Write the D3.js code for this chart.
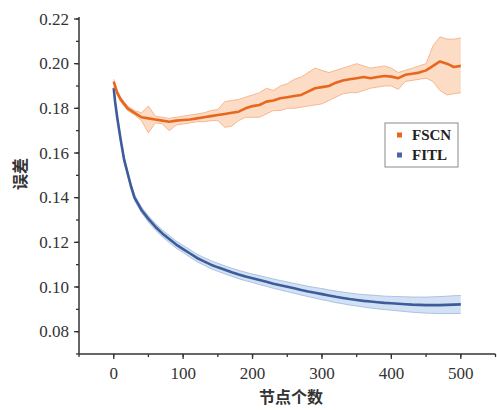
<!DOCTYPE html>
<html><head><meta charset="utf-8">
<script src="https://cdn.jsdelivr.net/npm/d3@7"></script>
<style>body{margin:0;background:#fff}svg{display:block}</style>
</head><body><svg id="c" width="497" height="410"></svg>
<script>
const nodes = [0,2,5,10,15,20,25,30,40,50,60,70,80,90,100,110,120,130,140,150,160,170,180,190,200,210,220,230,240,250,260,270,280,290,300,310,320,330,340,350,360,370,380,390,400,410,420,430,440,450,460,470,480,490,500];
const fscnMean = [0.192,0.190,0.187,0.184,0.182,0.180,0.179,0.178,0.176,0.1755,0.175,0.1745,0.174,0.1745,0.1748,0.175,0.1755,0.176,0.1765,0.177,0.1775,0.178,0.1785,0.180,0.181,0.1815,0.183,0.1835,0.1845,0.185,0.1855,0.186,0.1875,0.189,0.1895,0.190,0.1915,0.1925,0.193,0.1935,0.194,0.1935,0.194,0.1945,0.1942,0.1935,0.195,0.1955,0.196,0.197,0.199,0.201,0.200,0.1985,0.199];
const fscnUpper = [0.193,0.191,0.188,0.185,0.183,0.181,0.180,0.179,0.178,0.181,0.1765,0.176,0.1755,0.176,0.1765,0.177,0.1775,0.178,0.179,0.1795,0.183,0.1835,0.184,0.185,0.186,0.187,0.189,0.188,0.190,0.191,0.193,0.194,0.196,0.198,0.197,0.196,0.197,0.198,0.199,0.200,0.199,0.198,0.1985,0.199,0.198,0.196,0.197,0.198,0.199,0.200,0.208,0.212,0.211,0.211,0.2115];
const fscnLower = [0.191,0.189,0.186,0.183,0.181,0.179,0.178,0.177,0.1745,0.169,0.1735,0.173,0.170,0.1725,0.173,0.1735,0.174,0.174,0.1745,0.1745,0.1715,0.172,0.1745,0.176,0.176,0.176,0.1775,0.179,0.179,0.180,0.180,0.1805,0.181,0.1815,0.182,0.1835,0.185,0.1865,0.187,0.187,0.188,0.189,0.1895,0.190,0.190,0.1885,0.192,0.1925,0.193,0.1935,0.192,0.188,0.186,0.1865,0.187];
const fitlMean = [0.189,0.183,0.176,0.166,0.157,0.151,0.145,0.140,0.1345,0.1305,0.127,0.124,0.1215,0.119,0.117,0.115,0.113,0.1115,0.110,0.1088,0.1077,0.1066,0.1056,0.1047,0.1039,0.1031,0.1023,0.1015,0.1008,0.1001,0.0994,0.0987,0.098,0.0974,0.0968,0.0962,0.0956,0.0951,0.0946,0.0942,0.0938,0.0935,0.0932,0.0929,0.0927,0.0925,0.0923,0.0921,0.092,0.0919,0.0919,0.0919,0.092,0.0921,0.0922];
const fitlSpread = [0.0008,0.0008,0.0008,0.0009,0.001,0.001,0.0011,0.0012,0.0013,0.0014,0.0015,0.0015,0.0016,0.0016,0.0016,0.0017,0.0017,0.0017,0.0018,0.0018,0.0018,0.0018,0.0019,0.0019,0.0019,0.002,0.002,0.0021,0.0021,0.0022,0.0022,0.0023,0.0023,0.0024,0.0025,0.0025,0.0026,0.0026,0.0027,0.0027,0.0028,0.0029,0.003,0.003,0.0031,0.0032,0.0033,0.0034,0.0035,0.0036,0.0037,0.0038,0.0039,0.004,0.004];
const xTicks = [0,100,200,300,400,500];
const yTicks = [0.08,0.10,0.12,0.14,0.16,0.18,0.20,0.22];
const seriesNames = ["FSCN","FITL"];

const svg = d3.select("#c");
const L = 79, R = 495.5, T = 19, B = 354;
const x = d3.scaleLinear().domain([-50,550]).range([L,R]);
const y = d3.scaleLinear().domain([0.07,0.22]).range([B,T]);

const serif = "'Liberation Serif','DejaVu Serif',serif";
const axisCol = "#333";

function drawSeries(mean, lo, hi, fill, edge, line){
  const area = d3.area().x((d,i)=>x(nodes[i])).y0((d,i)=>y(lo[i])).y1((d,i)=>y(hi[i]));
  svg.append("path").datum(mean).attr("d",area).attr("fill",fill).attr("stroke","none");
  const up = d3.line().x((d,i)=>x(nodes[i])).y((d,i)=>y(hi[i]));
  const dn = d3.line().x((d,i)=>x(nodes[i])).y((d,i)=>y(lo[i]));
  svg.append("path").datum(mean).attr("d",up).attr("fill","none").attr("stroke",edge).attr("stroke-width",0.8);
  svg.append("path").datum(mean).attr("d",dn).attr("fill","none").attr("stroke",edge).attr("stroke-width",0.8);
  const ln = d3.line().x((d,i)=>x(nodes[i])).y(d=>y(d));
  svg.append("path").datum(mean).attr("d",ln).attr("fill","none").attr("stroke",line).attr("stroke-width",2.6).attr("stroke-linejoin","round");
}

drawSeries(fitlMean, fitlMean.map((d,i)=>d-fitlSpread[i]), fitlMean.map((d,i)=>d+fitlSpread[i]), "#d2e2f4", "#9db6da", "#3d5c9c");
drawSeries(fscnMean, fscnLower, fscnUpper, "#fcdcc4", "#f2ab7e", "#e8671f");

// axes
const xMinor = d3.range(-50,551,50);
const yMinor = d3.range(0.07,0.2201,0.01);
const gx = svg.append("g").attr("transform",`translate(0,${B})`);
gx.append("line").attr("x1",L).attr("x2",R).attr("stroke",axisCol).attr("stroke-width",1.5);
gx.selectAll(".mn").data(xMinor).join("line").attr("x1",d=>x(d)).attr("x2",d=>x(d)).attr("y1",0).attr("y2",3).attr("stroke",axisCol).attr("stroke-width",1.3);
gx.selectAll(".mj").data(xTicks).join("line").attr("x1",d=>x(d)).attr("x2",d=>x(d)).attr("y1",0).attr("y2",5).attr("stroke",axisCol).attr("stroke-width",1.3);
gx.selectAll("text").data(xTicks).join("text").attr("x",d=>x(d)).attr("y",25).attr("text-anchor","middle")
  .attr("font-family",serif).attr("font-size",17).attr("fill","#333").text(d=>d);

const gy = svg.append("g").attr("transform",`translate(${L},0)`);
gy.append("line").attr("y1",T-2).attr("y2",B).attr("stroke",axisCol).attr("stroke-width",1.5);
gy.selectAll(".mn").data(yMinor).join("line").attr("y1",d=>y(d)).attr("y2",d=>y(d)).attr("x1",0).attr("x2",-3).attr("stroke",axisCol).attr("stroke-width",1.3);
gy.selectAll(".mj").data(yTicks).join("line").attr("y1",d=>y(d)).attr("y2",d=>y(d)).attr("x1",0).attr("x2",-5).attr("stroke",axisCol).attr("stroke-width",1.3);
gy.selectAll("text").data(yTicks).join("text").attr("x",-10).attr("y",d=>y(d)).attr("dy","0.34em").attr("text-anchor","end")
  .attr("font-family",serif).attr("font-size",17).attr("fill","#333").text(d=>d.toFixed(2));

// axis titles
svg.append("text").attr("transform","translate(26,174) rotate(-90)").attr("text-anchor","middle")
  .attr("font-family","'Noto Sans CJK SC',sans-serif").attr("font-weight","bold").attr("font-size",16).attr("fill","#333").text("误差");
svg.append("text").attr("x",291).attr("y",403).attr("text-anchor","middle")
  .attr("font-family","'Noto Sans CJK SC',sans-serif").attr("font-weight","bold").attr("font-size",16).attr("fill","#333").text("节点个数");

// legend
const lg = svg.append("g");
lg.append("rect").attr("x",385).attr("y",123).attr("width",73).attr("height",44).attr("fill","#fff").attr("stroke","#8a8a8a").attr("stroke-width",1);
const lcol = ["#e8671f","#4a64a8"];
seriesNames.forEach((n,i)=>{
  const cy = 135 + i*20;
  lg.append("rect").attr("x",397).attr("y",cy-2.5).attr("width",5).attr("height",5).attr("fill",lcol[i]);
  lg.append("text").attr("x",412).attr("y",cy).attr("dy","0.35em").attr("font-family",serif).attr("font-weight","bold")
    .attr("font-size",15).attr("fill","#222").text(n);
});
</script></body></html>
